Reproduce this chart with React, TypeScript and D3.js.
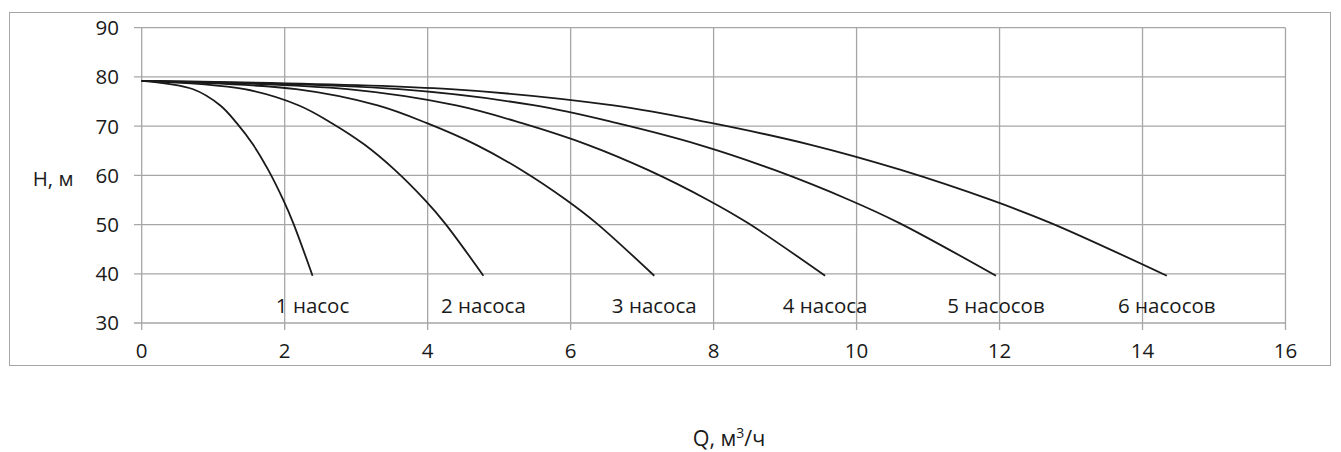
import React from "react";
import * as d3 from "d3";

const head: number[] = [79.2, 77.5, 74.2, 70.6, 66.2, 61.1, 55.0, 50.3, 39.6];
const flow1: number[] = [0, 0.72, 1.1, 1.33, 1.56, 1.77, 1.98, 2.12, 2.39];
const flow2: number[] = [0, 1.44, 2.2, 2.66, 3.12, 3.54, 3.96, 4.24, 4.78];
const flow3: number[] = [0, 2.16, 3.3, 3.99, 4.68, 5.31, 5.94, 6.36, 7.17];
const flow4: number[] = [0, 2.88, 4.4, 5.32, 6.24, 7.08, 7.92, 8.48, 9.56];
const flow5: number[] = [0, 3.6, 5.5, 6.65, 7.8, 8.85, 9.9, 10.6, 11.95];
const flow6: number[] = [0, 4.32, 6.6, 7.98, 9.36, 10.62, 11.88, 12.72, 14.34];
const seriesLabels: string[] = ["1 насос", "2 насоса", "3 насоса", "4 насоса", "5 насосов", "6 насосов"];
const xTicks: number[] = [0, 2, 4, 6, 8, 10, 12, 14, 16];
const yTicks: number[] = [30, 40, 50, 60, 70, 80, 90];

const flows = [flow1, flow2, flow3, flow4, flow5, flow6];

const W = 1341;
const H = 452;
const FONT = "'Open Sans', 'DejaVu Sans', sans-serif";
const FS = 20.5;

export default function App() {
  const x = d3.scaleLinear().domain([0, 16]).range([141.7, 1285.5]);
  const y = d3.scaleLinear().domain([30, 90]).range([323, 27.7]);
  const line = d3
    .line<[number, number]>()
    .x((d) => x(d[0]))
    .y((d) => y(d[1]))
    .curve(d3.curveCatmullRom.alpha(0.5));

  const grid = "#a6a6a6";
  return (
    <svg width={W} height={H} style={{ position: "absolute", left: 0, top: 0 }} fontFamily={FONT}>
      <rect x={0} y={0} width={W} height={H} fill="#fff" />
      <rect x={9.5} y={12.5} width={1321} height={353} fill="none" stroke={grid} strokeWidth={1} />
      {yTicks.map((t) => (
        <g key={"y" + t}>
          <line x1={134} x2={x(16)} y1={y(t)} y2={y(t)} stroke={grid} strokeWidth={1.3} />
          <text x={119} y={y(t)} dy="0.36em" textAnchor="end" fontSize={FS} fill="#1a1a1a">
            {t}
          </text>
        </g>
      ))}
      {xTicks.map((t) => (
        <g key={"x" + t}>
          <line x1={x(t)} x2={x(t)} y1={y(90)} y2={330} stroke={grid} strokeWidth={1.3} />
          <text x={x(t)} y={358} textAnchor="middle" fontSize={FS} fill="#1a1a1a">
            {t}
          </text>
        </g>
      ))}
      {flows.map((f, i) => {
        const pts = f.map((q, j) => [q, head[j]] as [number, number]);
        return (
          <path key={"s" + i} d={line(pts) || ""} fill="none" stroke="#1a1a1a" strokeWidth={1.8} />
        );
      })}
      {flows.map((f, i) => (
        <text
          key={"l" + i}
          x={x(f[f.length - 1])}
          y={313}
          textAnchor="middle"
          fontSize={FS}
          fill="#1a1a1a"
        >
          {seriesLabels[i]}
        </text>
      ))}
      <text x={32.7} y={186} fontSize={FS} fill="#1a1a1a">
        Н, м
      </text>
      <text x={692.7} y={446} fontSize={21.5} fill="#1a1a1a">
        Q, м<tspan dy={-8} fontSize={14}>3</tspan>
        <tspan dy={8}>/ч</tspan>
      </text>
    </svg>
  );
}
